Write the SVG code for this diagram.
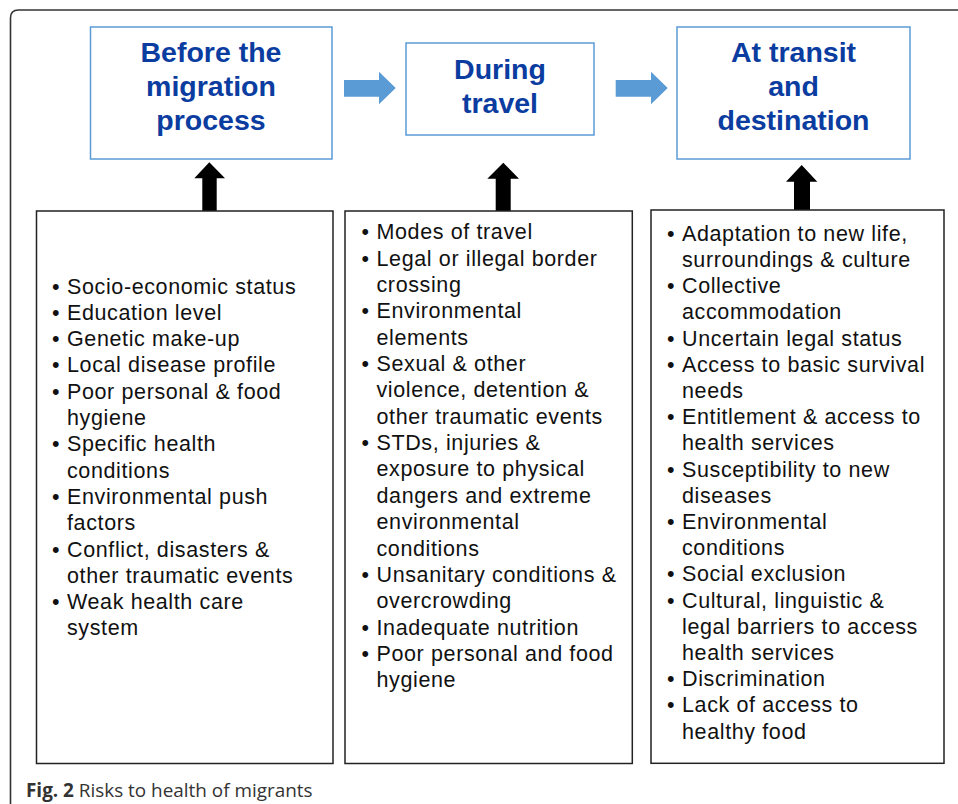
<svg xmlns="http://www.w3.org/2000/svg" width="958" height="804" viewBox="0 0 958 804">
<style>
.frame{fill:none;stroke:#333;stroke-width:1.6}
.stage{fill:#fff;stroke:#5b9bd5;stroke-width:1.5}
.title{font-family:"Liberation Sans",Arial,sans-serif;font-weight:bold;font-size:28.5px;fill:#0b3c9f;text-anchor:middle}
.list{fill:#fff;stroke:#222;stroke-width:1.5}
.item{font-family:"Liberation Sans",Arial,sans-serif;font-size:21.5px;letter-spacing:0.62px;fill:#111}
.blue{fill:#5b9bd5}
.black{fill:#000}
.cap{font-family:"Open Sans",sans-serif;font-size:18.9px;fill:#333}
</style>
<rect x="0" y="0" width="958" height="804" fill="#fff"/>
<path class="frame" d="M10.5,804 V18 Q10.5,10 18.5,10 H958"/>

<g id="stage-before">
<rect class="stage" x="90.5" y="27" width="241.5" height="132"/>
<text class="title" x="211" y="62">Before the</text>
<text class="title" x="211" y="96">migration</text>
<text class="title" x="211" y="130">process</text>
</g>
<g id="stage-during">
<rect class="stage" x="406" y="43" width="188" height="92"/>
<text class="title" x="500" y="78.5">During</text>
<text class="title" x="500" y="112.5">travel</text>
</g>
<g id="stage-destination">
<rect class="stage" x="677" y="27" width="233" height="132"/>
<text class="title" x="793.5" y="62">At transit</text>
<text class="title" x="793.5" y="96">and</text>
<text class="title" x="793.5" y="130">destination</text>
</g>

<g id="connectors">
<polygon class="blue" points="344,80 379,80 379,71.7 395.7,88 379,104.3 379,96.7 344,96.7"/>
<polygon class="blue" points="615.7,80 651,80 651,71.7 667.7,88 651,104.3 651,96.7 615.7,96.7"/>
<polygon class="black" points="202.3,211 202.3,178.3 194.3,178.3 209.3,162.3 225,178.3 216.7,178.3 216.7,211"/>
<polygon class="black" points="495.7,211 495.7,178.7 487.3,178.7 503.3,162.7 519,178.7 510.7,178.7 510.7,211"/>
<polygon class="black" points="794,210 794,181.7 786,181.7 801.7,165 817.3,181.7 810,181.7 810,210"/>
</g>

<g id="list-before">
<rect class="list" x="36.5" y="211" width="296.5" height="552.5"/>
<g class="item">
<text x="52" y="293.5">•</text><text x="67" y="293.5">Socio-economic status</text>
<text x="52" y="319.8">•</text><text x="67" y="319.8">Education level</text>
<text x="52" y="346.1">•</text><text x="67" y="346.1">Genetic make-up</text>
<text x="52" y="372.4">•</text><text x="67" y="372.4">Local disease profile</text>
<text x="52" y="398.7">•</text><text x="67" y="398.7">Poor personal &amp; food</text>
<text x="67" y="425">hygiene</text>
<text x="52" y="451.3">•</text><text x="67" y="451.3">Specific health</text>
<text x="67" y="477.6">conditions</text>
<text x="52" y="503.9">•</text><text x="67" y="503.9">Environmental push</text>
<text x="67" y="530.2">factors</text>
<text x="52" y="556.5">•</text><text x="67" y="556.5">Conflict, disasters &amp;</text>
<text x="67" y="582.8">other traumatic events</text>
<text x="52" y="609.1">•</text><text x="67" y="609.1">Weak health care</text>
<text x="67" y="635.4">system</text>
</g>
</g>

<g id="list-during">
<rect class="list" x="345" y="211" width="287.3" height="552.5"/>
<g class="item">
<text x="361.5" y="239.3">•</text><text x="376.5" y="239.3">Modes of travel</text>
<text x="361.5" y="265.65">•</text><text x="376.5" y="265.65">Legal or illegal border</text>
<text x="376.5" y="292">crossing</text>
<text x="361.5" y="318.35">•</text><text x="376.5" y="318.35">Environmental</text>
<text x="376.5" y="344.7">elements</text>
<text x="361.5" y="371.05">•</text><text x="376.5" y="371.05">Sexual &amp; other</text>
<text x="376.5" y="397.4">violence, detention &amp;</text>
<text x="376.5" y="423.75">other traumatic events</text>
<text x="361.5" y="450.1">•</text><text x="376.5" y="450.1">STDs, injuries &amp;</text>
<text x="376.5" y="476.45">exposure to physical</text>
<text x="376.5" y="502.8">dangers and extreme</text>
<text x="376.5" y="529.15">environmental</text>
<text x="376.5" y="555.5">conditions</text>
<text x="361.5" y="581.85">•</text><text x="376.5" y="581.85">Unsanitary conditions &amp;</text>
<text x="376.5" y="608.2">overcrowding</text>
<text x="361.5" y="634.55">•</text><text x="376.5" y="634.55">Inadequate nutrition</text>
<text x="361.5" y="660.9">•</text><text x="376.5" y="660.9">Poor personal and food</text>
<text x="376.5" y="687.25">hygiene</text>
</g>
</g>

<g id="list-destination">
<rect class="list" x="651" y="210" width="293" height="553.3"/>
<g class="item">
<text x="667" y="240.7">•</text><text x="682" y="240.7">Adaptation to new life,</text>
<text x="682" y="266.9">surroundings &amp; culture</text>
<text x="667" y="293.1">•</text><text x="682" y="293.1">Collective</text>
<text x="682" y="319.3">accommodation</text>
<text x="667" y="345.5">•</text><text x="682" y="345.5">Uncertain legal status</text>
<text x="667" y="371.7">•</text><text x="682" y="371.7">Access to basic survival</text>
<text x="682" y="397.9">needs</text>
<text x="667" y="424.1">•</text><text x="682" y="424.1">Entitlement &amp; access to</text>
<text x="682" y="450.3">health services</text>
<text x="667" y="476.5">•</text><text x="682" y="476.5">Susceptibility to new</text>
<text x="682" y="502.7">diseases</text>
<text x="667" y="528.9">•</text><text x="682" y="528.9">Environmental</text>
<text x="682" y="555.1">conditions</text>
<text x="667" y="581.3">•</text><text x="682" y="581.3">Social exclusion</text>
<text x="667" y="607.5">•</text><text x="682" y="607.5">Cultural, linguistic &amp;</text>
<text x="682" y="633.7">legal barriers to access</text>
<text x="682" y="659.9">health services</text>
<text x="667" y="686.1">•</text><text x="682" y="686.1">Discrimination</text>
<text x="667" y="712.3">•</text><text x="682" y="712.3">Lack of access to</text>
<text x="682" y="738.5">healthy food</text>
</g>
</g>

<text class="cap" x="26" y="797"><tspan font-weight="bold">Fig. 2</tspan> Risks to health of migrants</text>
</svg>
